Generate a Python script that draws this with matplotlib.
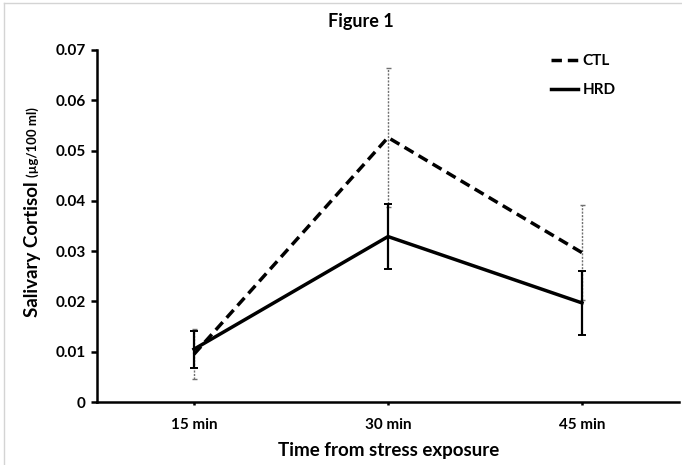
import matplotlib
matplotlib.use("Agg")
import matplotlib.pyplot as plt
from matplotlib.lines import Line2D
from matplotlib.ticker import FuncFormatter

times = ["15 min", "30 min", "45 min"]
ctl_mean = [0.0095, 0.0526, 0.0297]
ctl_err = [0.0050, 0.0139, 0.0095]
hrd_mean = [0.0105, 0.0329, 0.0197]
hrd_err = [0.0037, 0.0064, 0.0064]
yticks = [0, 0.01, 0.02, 0.03, 0.04, 0.05, 0.06, 0.07]

FONT = "Lato"
plt.rcParams["font.family"] = [FONT, "DejaVu Sans"]

W, H = 682, 465
fig = plt.figure(figsize=(W / 100, H / 100), dpi=100)
ax = fig.add_axes([97 / W, 1 - 402 / H, (679 - 97) / W, (402 - 50) / H])

x = list(range(1, len(times) + 1))

# CTL error bars (gray dotted)
eb1 = ax.errorbar(x, ctl_mean, yerr=ctl_err, fmt="none", ecolor="#707070",
                  elinewidth=1.0, capsize=1.8, capthick=1.0, zorder=2)
for lc in eb1[2]:
    lc.set_linestyle((0, (1.5, 1)))
# HRD error bars (solid black)
ax.errorbar(x, hrd_mean, yerr=hrd_err, fmt="none", ecolor="black",
            elinewidth=1.6, capsize=2.6, capthick=1.4, zorder=3)

ax.plot(x, ctl_mean, color="black", lw=2.5, linestyle=(0, (3, 1.7)),
        label="CTL", zorder=4)
ax.plot(x, hrd_mean, color="black", lw=2.5, label="HRD", zorder=4)

ax.set_xlim(0.5, 3.5)
ax.set_ylim(0, 0.07)
ax.set_yticks(yticks)
ax.yaxis.set_major_formatter(FuncFormatter(lambda v, p: "0" if abs(v) < 1e-12 else f"{v:.2f}"))
ax.set_xticks(x)
ax.set_xticklabels(times)

for s in ["top", "right"]:
    ax.spines[s].set_visible(False)
for s in ["left", "bottom"]:
    ax.spines[s].set_linewidth(1.8)
ax.tick_params(axis="y", direction="out", length=4, width=1.8, labelsize=11, pad=4)
ax.tick_params(axis="x", direction="out", length=2.5, width=1.8, labelsize=11, pad=9)
for lab in ax.get_xticklabels() + ax.get_yticklabels():
    lab.set_fontweight("bold")

# Title
fig.text(361 / W, 1 - 22 / H, "Figure 1", ha="center", va="center",
         fontsize=13, fontweight="bold")

# X label
fig.text(389 / W, 1 - 450 / H, "Time from stress exposure", ha="center",
         va="center", fontsize=13.5, fontweight="bold")

# Y label (two sizes), centred as a whole
ycenter_px = 212
xl = 33 / W
t1 = fig.text(xl, 0.5, "Salivary Cortisol ", rotation=90, rotation_mode="anchor",
              ha="right", va="center", fontsize=13.5, fontweight="bold")
t2 = fig.text(xl, 0.5, "(\u00b5g/100 ml)", rotation=90, rotation_mode="anchor",
              ha="left", va="center", fontsize=9.5, fontweight="bold")
fig.canvas.draw()
r = fig.canvas.get_renderer()
h1 = t1.get_window_extent(r).height
h2 = t2.get_window_extent(r).height
total = h1 + h2
bottom_px = (H - ycenter_px) - total / 2
yj = (bottom_px + h1) / H
t1.set_y(yj)
t2.set_y(yj)

# Legend
ax.legend(loc="upper left", bbox_to_anchor=(551 / W, 1 - 54 / H),
          bbox_transform=fig.transFigure, frameon=False,
          prop={"weight": "bold", "size": 11, "family": [FONT, "DejaVu Sans"]},
          handlelength=1.75, handletextpad=0.3, labelspacing=1.0,
          borderpad=0, borderaxespad=0)

# Chart frame (light gray, left and top)
fig.add_artist(Line2D([4 / W, 4 / W], [0, 1 - 3 / H], transform=fig.transFigure,
                      color="#d4d4d4", lw=1))
fig.add_artist(Line2D([4 / W, 1], [1 - 3 / H, 1 - 3 / H], transform=fig.transFigure,
                      color="#d4d4d4", lw=1))

fig.savefig("out.png", dpi=100)
